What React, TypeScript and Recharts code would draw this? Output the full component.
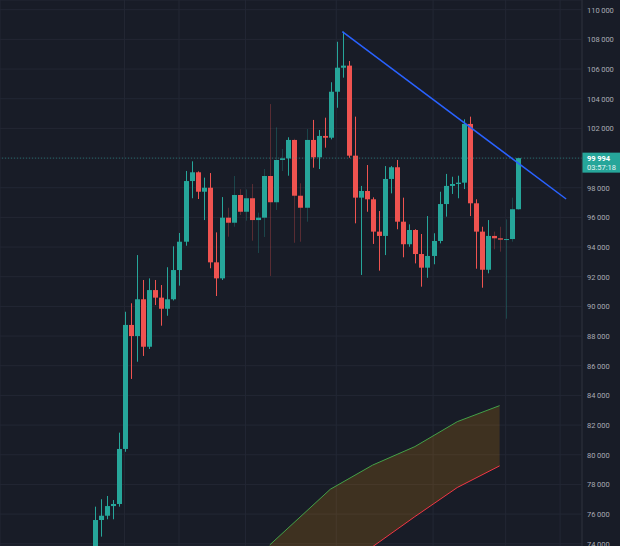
import React from 'react';
import { ComposedChart, Bar, Line, Area, XAxis, YAxis, CartesianGrid, ReferenceLine } from 'recharts';

// daily candles, 2024-11-06 .. 2025-01-15
const dates = [
  'Nov 6', 'Nov 7', 'Nov 8', 'Nov 9', 'Nov 10', 'Nov 11', 'Nov 12', 'Nov 13', 'Nov 14', 'Nov 15',
  'Nov 16', 'Nov 17', 'Nov 18', 'Nov 19', 'Nov 20', 'Nov 21', 'Nov 22', 'Nov 23', 'Nov 24', 'Nov 25',
  'Nov 26', 'Nov 27', 'Nov 28', 'Nov 29', 'Nov 30', 'Dec 1', 'Dec 2', 'Dec 3', 'Dec 4', 'Dec 5',
  'Dec 6', 'Dec 7', 'Dec 8', 'Dec 9', 'Dec 10', 'Dec 11', 'Dec 12', 'Dec 13', 'Dec 14', 'Dec 15',
  'Dec 16', 'Dec 17', 'Dec 18', 'Dec 19', 'Dec 20', 'Dec 21', 'Dec 22', 'Dec 23', 'Dec 24', 'Dec 25',
  'Dec 26', 'Dec 27', 'Dec 28', 'Dec 29', 'Dec 30', 'Dec 31', 'Jan 1', 'Jan 2', 'Jan 3', 'Jan 4',
  'Jan 5', 'Jan 6', 'Jan 7', 'Jan 8', 'Jan 9', 'Jan 10', 'Jan 11', 'Jan 12', 'Jan 13', 'Jan 14',
  'Jan 15',
];

const open = [
  69400, 75600, 75890, 76540, 76680, 80390, 88750, 88000, 90480, 87280,
  91100, 90590, 89840, 90480, 92450, 94360, 98450, 99040, 97730, 98000,
  92970, 91890, 95980, 95640, 97510, 96380, 97290, 95820, 95980, 98790,
  97020, 99870, 99980, 101220, 97460, 96650, 101220, 100050, 101490, 101370,
  104470, 106090, 106230, 100160, 97330, 97780, 97220, 95040, 94750, 98590,
  99380, 95710, 94190, 95150, 93530, 92610, 93400, 94410, 96900, 98120,
  98250, 98340, 102300, 96950, 95040, 92470, 94750, 94590, 94500, 94540,
  96550,
];

const high = [
  76500, 77000, 77220, 76950, 81490, 89640, 90210, 93460, 91780, 91890,
  91780, 91440, 92640, 94050, 94950, 99130, 99780, 99100, 98680, 98990,
  94990, 97370, 96650, 98790, 97900, 97890, 98250, 96320, 99260, 103640,
  102070, 100610, 101400, 101300, 98300, 101960, 102570, 101890, 102720, 105110,
  107840, 108520, 106540, 102790, 98120, 99530, 97350, 96430, 99460, 99460,
  99870, 97330, 95530, 95200, 94880, 96090, 94930, 97730, 98930, 98740,
  98810, 102610, 102790, 97220, 95370, 95820, 95040, 95370, 95870, 97330,
  99994,
];

const low = [
  69300, 74480, 75650, 75650, 76500, 80200, 85110, 86270, 86660, 87130,
  90090, 88700, 89370, 90400, 91400, 94090, 97290, 97240, 95820, 92570,
  90700, 91780, 94700, 95370, 96160, 95780, 94430, 93600, 94680, 92050,
  96500, 99130, 98810, 94290, 94360, 95710, 99350, 99260, 100700, 101260,
  103390, 105420, 100020, 95600, 92120, 96380, 94210, 92410, 93460, 97620,
  95200, 93310, 94020, 92900, 91330, 91930, 92840, 94250, 96050, 97580,
  97290, 97910, 96090, 92540, 91260, 92230, 93850, 93690, 89170, 94360,
  96545,
];

const close = [
  75600, 75890, 76540, 76680, 80390, 88750, 88000, 90480, 87280, 91100,
  90590, 89840, 90480, 92450, 94360, 98450, 99040, 97730, 98000, 92970,
  91890, 95980, 95640, 97510, 96380, 97290, 95820, 95980, 98790, 97020,
  99870, 99980, 101220, 97460, 96650, 101220, 100050, 101490, 101370, 104470,
  106090, 106230, 100160, 97330, 97780, 97220, 95040, 94750, 98590, 99380,
  95710, 94190, 95150, 93530, 92610, 93400, 94410, 96900, 98120, 98250,
  98340, 102300, 96950, 95040, 92470, 94750, 94590, 94500, 94540, 96550,
  99994,
];

// candles whose wicks show faded on the screenshot
const fadedWicks = [22, 23, 24, 25, 26, 27, 28, 29, 30, 31, 33, 34, 35, 66, 67, 68, 69];

// cloud band (bar index -> upper / lower edge)
const cloudIdx = [29, 39, 46, 53, 60, 67];
const cloudUpper = [73920, 77670, 79300, 80550, 82230, 83310];
const cloudLower = [69500, 72000, 73800, 75830, 77790, 79250];

// trend line from the Dec 17 high
const trendIdx = [41, 78];
const trendVal = [108520, 97240];

const yTicks = [
  74000, 76000, 78000, 80000, 82000, 84000, 86000, 88000, 90000, 92000,
  94000, 96000, 98000, 100000, 102000, 104000, 106000, 108000, 110000,
];
// time-scale grid (bar index of Nov 11, Nov 20, Dec 1, Dec 16, Jan 1, Jan 13, Jan 22)
const timeGrid = [5, 14, 25, 40, 56, 68, 77];

const LAST = close[close.length - 1];
const TIMER = '03:57:18';

const UP = '#26a69a';
const DOWN = '#ef5350';
const BG = '#181c27';
const GRID = '#232734';
const FONT = 'Roboto, "Noto Sans", sans-serif';

const rows = Array.from({ length: 79 }, (_, i) => {
  const r: any = { i };
  if (i < open.length) {
    r.date = dates[i];
    r.open = open[i];
    r.high = high[i];
    r.low = low[i];
    r.close = close[i];
    r.faded = fadedWicks.includes(i);
  }
  const c = cloudIdx.indexOf(i);
  if (c >= 0) {
    r.cloudHi = cloudUpper[c];
    r.cloudLo = cloudLower[c];
  }
  const t = trendIdx.indexOf(i);
  if (t >= 0) r.trend = trendVal[t];
  return r;
});

const fmt = (v: number) => `${Math.floor(v / 1000)}\u2009${String(v % 1000).padStart(3, '0')}`;

const Candle = (props: any) => {
  const { x, y, width, height, payload } = props;
  if (!payload || payload.open == null || !height) return <g />;
  const { open: o, close: c, high: h, low: l, faded } = payload;
  const k = height / (h - l);
  const py = (v: number) => y + (h - v) * k;
  const color = c >= o ? UP : DOWN;
  const cx = Math.round(x + width / 2);
  const top = py(Math.max(o, c));
  const bot = py(Math.min(o, c));
  return (
    <g>
      <rect x={cx} y={y} width={1} height={height} fill={color} opacity={faded ? 0.3 : 1} />
      <rect x={cx - 2} y={top} width={5} height={Math.max(1, bot - top)} fill={color} />
    </g>
  );
};

const PriceTick = (props: any) => {
  const { x, y, payload } = props;
  // the last-price tag covers this one
  if (Math.abs(payload.value - LAST) < 1000) return <g />;
  return (
    <text x={x} y={y} dy={2.8} fill="#a8abb4" fontSize={7.5} fontFamily={FONT} textAnchor="start">
      {fmt(payload.value)}
    </text>
  );
};

const PriceTag = (props: any) => {
  const vb = props.viewBox || {};
  const x = (vb.x || 0) + (vb.width || 0);
  const y = vb.y || 0;
  return (
    <g>
      <rect x={x} y={y - 5.5} width={38} height={20} fill={UP} />
      <text x={x + 5} y={y + 2.8} fill="#ffffff" fontSize={7.5} fontWeight={700} fontFamily={FONT}>
        {fmt(LAST)}
      </text>
      <text x={x + 5} y={y + 12} fill="#e6f4f2" fontSize={7.5} fontFamily={FONT}>
        {TIMER}
      </text>
    </g>
  );
};

export default function App() {
  return (
    <div style={{ position: 'absolute', left: 0, top: 0, width: 620, height: 546, background: BG }}>
      <ComposedChart width={620} height={546} data={rows} margin={{ top: 0, right: 0, bottom: 0, left: 0 }}>
        <CartesianGrid stroke={GRID} />
        <XAxis
          dataKey="i"
          type="number"
          domain={[-15.59, 80.62]}
          ticks={timeGrid}
          interval={0}
          allowDataOverflow
          hide
        />
        <YAxis
          orientation="right"
          width={38}
          domain={[73848, 110654]}
          ticks={yTicks}
          interval={0}
          allowDataOverflow
          tickLine={false}
          tickSize={0}
          tickMargin={5}
          axisLine={{ stroke: '#2a2e39' }}
          tick={<PriceTick />}
        />
        <Area
          dataKey={(d: any) => (d.cloudHi == null ? null : [d.cloudLo, d.cloudHi])}
          fill="rgba(255,152,0,0.28)"
          stroke="none"
          connectNulls
          isAnimationActive={false}
        />
        <Line dataKey="cloudHi" stroke="#43a047" strokeWidth={1} dot={false} connectNulls isAnimationActive={false} />
        <Line dataKey="cloudLo" stroke="#f23645" strokeWidth={1} dot={false} connectNulls isAnimationActive={false} />
        <ReferenceLine
          y={LAST}
          stroke={UP}
          strokeOpacity={0.55}
          strokeDasharray="1 2"
          label={(p: any) => <PriceTag {...p} />}
        />
        <Bar
          dataKey={(d: any) => (d.open == null ? null : [d.low, d.high])}
          barSize={5}
          shape={<Candle />}
          isAnimationActive={false}
        />
        <Line dataKey="trend" stroke="#2962ff" strokeWidth={1.5} dot={false} connectNulls isAnimationActive={false} />
      </ComposedChart>
    </div>
  );
}
